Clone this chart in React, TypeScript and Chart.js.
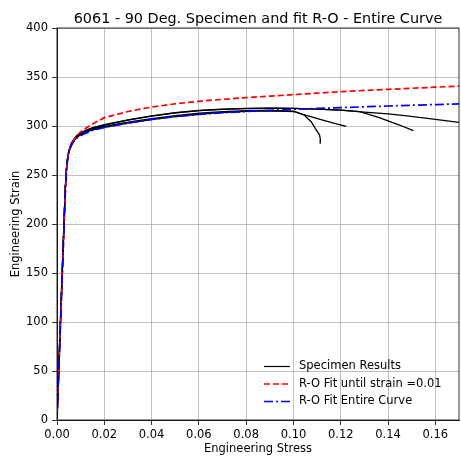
import { useEffect, useRef } from "react";
import { Chart, registerables } from "chart.js";

Chart.register(...registerables);

const titleText = "6061 - 90 Deg. Specimen and fit R-O - Entire Curve";
const xLabel = "Engineering Stress";
const yLabel = "Engineering Strain";
const legendLabels = ["Specimen Results", "R-O Fit until strain =0.01", "R-O Fit Entire Curve"];

const xTickValues = [0, 0.02, 0.04, 0.06, 0.08, 0.1, 0.12, 0.14, 0.16];
const yTickValues = [0, 50, 100, 150, 200, 250, 300, 350, 400];

// Specimen A (shortest, ends ~0.111)
const specAStrain = [0, 0.001, 0.002, 0.003, 0.0035, 0.004, 0.0045, 0.005, 0.006, 0.007, 0.0083, 0.01, 0.012, 0.015, 0.02, 0.03, 0.04, 0.05, 0.06, 0.07, 0.08, 0.09, 0.1004, 0.1046, 0.1075, 0.1096, 0.111, 0.1114, 0.1113];
const specAStress = [0, 68, 136, 203, 236, 255, 266, 273, 280, 284, 288, 291, 293.5, 296, 298.5, 303, 306.5, 309.5, 312, 313.8, 315, 315.5, 314.8, 311, 304.4, 296, 291, 286, 282];

// Specimen B (ends ~0.122)
const specBStrain = [0, 0.001, 0.002, 0.003, 0.0035, 0.004, 0.0045, 0.005, 0.006, 0.007, 0.0083, 0.01, 0.012, 0.015, 0.02, 0.03, 0.04, 0.05, 0.06, 0.07, 0.08, 0.09, 0.1, 0.104, 0.108, 0.1124, 0.117, 0.1223];
const specBStress = [0, 67, 135, 202, 235, 255, 267, 274, 281, 285, 289, 292, 294.5, 297, 299.5, 304, 307.5, 310.5, 313, 314.7, 315.6, 315.8, 315, 311.8, 309, 306, 303, 299.5];

// Specimen C (ends ~0.151)
const specCStrain = [0, 0.001, 0.002, 0.003, 0.0035, 0.004, 0.0045, 0.005, 0.006, 0.007, 0.0083, 0.01, 0.012, 0.015, 0.02, 0.03, 0.04, 0.05, 0.06, 0.07, 0.08, 0.09, 0.1, 0.11, 0.12, 0.128, 0.1363, 0.1448, 0.1507];
const specCStress = [0, 69, 137, 204, 237, 257, 268, 275, 282, 286, 290, 293, 295.5, 298, 301, 306, 310, 313.3, 315.6, 317, 317.8, 318.1, 318, 317.3, 316.2, 314.6, 308.5, 301, 295.2];

// Specimen D (continues past 0.17)
const specDStrain = [0, 0.001, 0.002, 0.003, 0.0035, 0.004, 0.0045, 0.005, 0.006, 0.007, 0.0083, 0.01, 0.012, 0.015, 0.02, 0.03, 0.04, 0.05, 0.06, 0.07, 0.08, 0.09, 0.1, 0.11, 0.12, 0.13, 0.14, 0.148, 0.16, 0.17];
const specDStress = [0, 68, 136, 203, 236, 256, 267, 274, 281, 285.5, 289.5, 292.5, 295, 298, 301.5, 306.3, 310.3, 313.5, 315.8, 317.3, 318, 318.3, 318, 317.3, 316.2, 314.2, 312.3, 310.3, 306.8, 303.6];

// R-O fit until strain = 0.01 (red dashed)
const roFit1Strain = [0, 0.001, 0.002, 0.003, 0.0035, 0.004, 0.0045, 0.005, 0.006, 0.007, 0.0083, 0.01, 0.012, 0.015, 0.02, 0.03, 0.04, 0.05, 0.06, 0.07, 0.08, 0.09, 0.1, 0.11, 0.12, 0.13, 0.14, 0.15, 0.16, 0.17];
const roFit1Stress = [0, 67, 134, 200, 232, 255, 267, 274, 281, 285.5, 290, 294, 297.5, 302, 308.5, 314.8, 319.3, 322.7, 325.2, 327.2, 329, 330.5, 332, 333.5, 335, 336.3, 337.4, 338.5, 339.6, 340.6];

// R-O fit entire curve (blue dash-dot)
const roFit2Strain = [0, 0.001, 0.002, 0.003, 0.0035, 0.004, 0.0045, 0.005, 0.006, 0.007, 0.0083, 0.01, 0.012, 0.015, 0.02, 0.03, 0.04, 0.05, 0.06, 0.07, 0.08, 0.09, 0.1, 0.11, 0.12, 0.13, 0.14, 0.15, 0.16, 0.17];
const roFit2Stress = [0, 67, 134, 200, 232, 255, 266, 273, 280, 284, 287.5, 290, 292.5, 295.5, 298.5, 303, 306.8, 309.5, 311.8, 313.5, 314.8, 316, 317, 317.9, 318.7, 319.6, 320.4, 321.2, 321.9, 322.6];

const toPoints = (xs: number[], ys: number[]) => xs.map((x, i) => ({ x, y: ys[i] }));

const FONT = '"DejaVu Sans", sans-serif';
const RED_DASH = [6, 3];
const BLUE_DASH = [9, 3, 2, 3];

const overlay = {
  id: "overlay",
  afterDraw(chart: any) {
    const { ctx, chartArea: a } = chart;
    ctx.save();
    // frame
    ctx.strokeStyle = "#000";
    ctx.lineWidth = 0.8;
    ctx.setLineDash([]);
    ctx.strokeRect(a.left, a.top, a.right - a.left, a.bottom - a.top);
    // title
    ctx.fillStyle = "#000";
    ctx.font = `14.4px ${FONT}`;
    ctx.textAlign = "center";
    ctx.textBaseline = "alphabetic";
    ctx.fillText(titleText, (a.left + a.right) / 2, 22.5);
    // x label
    ctx.font = `11.5px ${FONT}`;
    ctx.fillText(xLabel, (a.left + a.right) / 2, 452);
    // y label
    ctx.save();
    ctx.translate(18.5, (a.top + a.bottom) / 2);
    ctx.rotate(-Math.PI / 2);
    ctx.fillText(yLabel, 0, 0);
    ctx.restore();
    // legend
    const items = [
      { color: "#000", width: 1.2, dash: [] as number[] },
      { color: "#ff0000", width: 1.6, dash: RED_DASH },
      { color: "#0000ff", width: 1.6, dash: BLUE_DASH },
    ];
    const rowY = [366.5, 384, 401.5];
    ctx.textAlign = "left";
    ctx.textBaseline = "middle";
    items.forEach((it, i) => {
      ctx.beginPath();
      ctx.strokeStyle = it.color;
      ctx.lineWidth = it.width;
      ctx.setLineDash(it.dash);
      ctx.moveTo(264, rowY[i]);
      ctx.lineTo(290, rowY[i]);
      ctx.stroke();
      ctx.setLineDash([]);
      ctx.fillStyle = "#000";
      ctx.fillText(legendLabels[i], 299, rowY[i]);
    });
    ctx.restore();
  },
};

export default function App() {
  const ref = useRef<HTMLCanvasElement | null>(null);
  useEffect(() => {
    if (!ref.current) return;
    Chart.defaults.font.family = FONT;
    const black = (xs: number[], ys: number[]) => ({
      data: toPoints(xs, ys),
      borderColor: "#000",
      borderWidth: 1.3,
      pointRadius: 0,
      tension: 0,
      fill: false,
    });
    const chart = new Chart(ref.current, {
      type: "line",
      data: {
        datasets: [
          {
            data: toPoints(roFit2Strain, roFit2Stress),
            borderColor: "#0000ff",
            borderWidth: 1.7,
            borderDash: BLUE_DASH,
            pointRadius: 0,
            tension: 0,
            fill: false,
          },
          {
            data: toPoints(roFit1Strain, roFit1Stress),
            borderColor: "#ff0000",
            borderWidth: 1.7,
            borderDash: RED_DASH,
            pointRadius: 0,
            tension: 0,
            fill: false,
          },
          black(specAStrain, specAStress),
          black(specBStrain, specBStress),
          black(specCStrain, specCStress),
          black(specDStrain, specDStress),
        ] as any,
      },
      options: {
        animation: false,
        responsive: false,
        devicePixelRatio: 1,
        layout: { padding: { top: 28, right: 2, left: 0, bottom: 0 } },
        plugins: { legend: { display: false }, tooltip: { enabled: false }, title: { display: false } },
        scales: {
          x: {
            type: "linear",
            min: 0,
            max: 0.17,
            afterBuildTicks: (s: any) => {
              s.ticks = xTickValues.map((v) => ({ value: v }));
            },
            afterFit: (s: any) => {
              s.height = 40;
            },
            ticks: {
              color: "#000",
              font: { size: 11.5, family: FONT },
              padding: 3,
              maxRotation: 0,
              autoSkip: false,
              callback: (v: any) => Number(v).toFixed(2),
            },
            grid: { color: "#b0b0b0", lineWidth: 0.8, tickLength: 5, tickColor: "#000", drawOnChartArea: true },
            border: { display: true, color: "#000", width: 0.8 },
          },
          y: {
            type: "linear",
            min: 0,
            max: 400,
            afterBuildTicks: (s: any) => {
              s.ticks = yTickValues.map((v) => ({ value: v }));
            },
            afterFit: (s: any) => {
              s.width = 57;
            },
            ticks: {
              color: "#000",
              font: { size: 11.5, family: FONT },
              padding: 4,
              autoSkip: false,
              callback: (v: any) => String(v),
            },
            grid: { color: "#b0b0b0", lineWidth: 0.8, tickLength: 5, tickColor: "#000", drawOnChartArea: true },
            border: { display: true, color: "#000", width: 0.8 },
          },
        },
      } as any,
      plugins: [overlay],
    });
    return () => chart.destroy();
  }, []);
  return (
    <div style={{ position: "absolute", left: 0, top: 0, width: 461, height: 460, background: "#fff" }}>
      <canvas ref={ref} width={461} height={460} style={{ display: "block" }} />
    </div>
  );
}
